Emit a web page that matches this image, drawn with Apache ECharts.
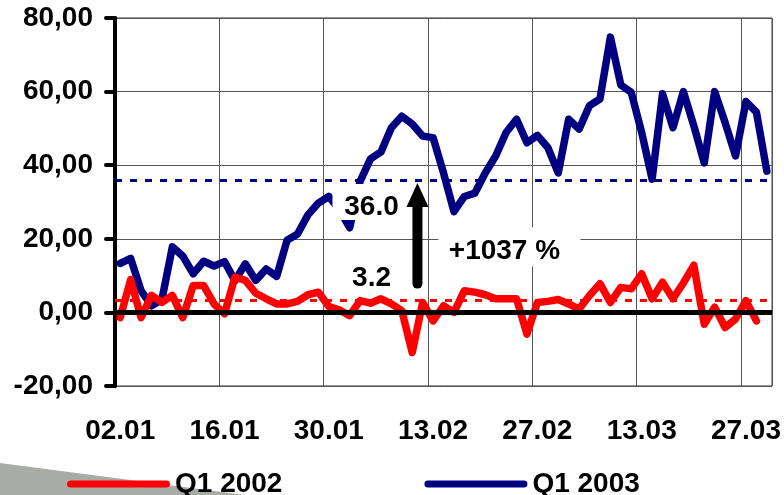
<!DOCTYPE html>
<html>
<head>
<meta charset="utf-8">
<script src="https://cdn.jsdelivr.net/npm/echarts/dist/echarts.min.js"></script>
<style>
  html, body { margin: 0; padding: 0; background: #fff; }
  #chart { width: 784px; height: 495px; }
</style>
</head>
<body>
<div id="chart"></div>
<script>
// Trading days of Q1 (dd.mm)
const days = [
  '02.01','03.01','06.01','07.01','08.01','09.01','10.01','13.01','14.01','15.01',
  '16.01','17.01','20.01','21.01','22.01','23.01','24.01','27.01','28.01','29.01',
  '30.01','31.01','03.02','04.02','05.02','06.02','07.02','10.02','11.02','12.02',
  '13.02','14.02','17.02','18.02','19.02','20.02','21.02','24.02','25.02','26.02',
  '27.02','28.02','03.03','04.03','05.03','06.03','07.03','10.03','11.03','12.03',
  '13.03','14.03','17.03','18.03','19.03','20.03','21.03','24.03','25.03','26.03',
  '27.03','28.03','31.03'
];

// Daily values, Q1 2002
const q2002 = [
  -1.4, 8.9, -1.4, 4.6, 2.7, 4.6, -1.4, 7.3, 7.3, 2.3,
  -0.4, 9.6, 8.7, 5.2, 3.7, 2.3, 2.3, 3.0, 4.8, 5.5,
  1.6, 0.7, -0.9, 3.2, 2.5, 3.7, 2.3, 0.5, -10.9, 2.7,
  -2.3, 1.8, 0.0, 5.9, 5.5, 4.8, 3.7, 3.7, 3.7, -5.9,
  2.7, 3.0, 3.5, 2.3, 0.9, 4.6, 7.8, 2.7, 6.8, 6.4,
  10.5, 3.7, 8.2, 3.7, 8.0, 12.8, -3.2, 1.4, -4.1, -1.8,
  3.2, -2.3
];

// Daily values, Q1 2003
const q2003 = [
  13.3, 14.7, 5.9, 1.8, 3.5, 17.8, 15.3, 10.5, 13.9, 12.6,
  13.8, 8.6, 13.2, 8.7, 11.8, 9.8, 19.6, 21.3, 26.5, 29.7,
  31.5, 28.0, 23.0, 35.6, 41.7, 43.6, 50.2, 53.3, 51.2, 47.9,
  47.5, 37.9, 27.4, 31.5, 32.4, 37.9, 42.5, 48.9, 52.5, 46.1,
  48.1, 44.8, 37.9, 52.5, 49.8, 56.2, 58.0, 74.8, 61.8, 59.8,
  48.9, 36.2, 59.4, 50.2, 60.0, 50.7, 40.6, 60.0, 51.6, 42.5,
  57.3, 54.4, 38.4
];

// Period averages and the change between them
const avg2002 = 3.2;
const avg2003 = 36.0;
const changeText = '+1037 %';

const seriesNames = ['Q1 2002', 'Q1 2003'];
const yTicks = { min: -20, max: 80, step: 20 };

const FONT = 'Liberation Sans, Arial, Helvetica, sans-serif';
const RED = '#ff0000';
const NAVY = '#000080';
const pill = 'path://M3.5,0 H99.5 A3.5,3.5 0 0 1 99.5,7 H3.5 A3.5,3.5 0 0 1 3.5,0 Z';

const chart = echarts.init(document.getElementById('chart'), null, { renderer: 'canvas' });

const option = {
  animation: false,
  backgroundColor: '#fff',
  textStyle: { fontFamily: FONT },
  grid: {
    left: 115, right: 11, top: 18, bottom: 109,
    show: true, borderColor: '#333', borderWidth: 1, backgroundColor: 'transparent'
  },
  legend: {
    left: 62, top: 465,
    itemWidth: 103, itemHeight: 7, itemGap: 142,
    textStyle: { fontFamily: FONT, fontSize: 28, fontWeight: 'bold', color: '#000' },
    data: [
      { name: seriesNames[0], icon: pill },
      { name: seriesNames[1], icon: pill }
    ]
  },
  xAxis: {
    type: 'category',
    data: days,
    boundaryGap: true,
    axisLine: { show: false },
    axisTick: { show: false },
    axisLabel: {
      interval: 9, margin: 31,
      fontFamily: FONT, fontSize: 28, fontWeight: 'bold', color: '#000'
    },
    splitLine: { show: true, interval: 9, lineStyle: { color: '#555', width: 1 } }
  },
  yAxis: {
    type: 'value',
    min: yTicks.min, max: yTicks.max, interval: yTicks.step,
    axisLine: { show: true, lineStyle: { color: '#000', width: 4 } },
    axisTick: { show: true, length: 9, lineStyle: { color: '#000', width: 4, cap: 'round' } },
    axisLabel: {
      margin: 22,
      fontFamily: FONT, fontSize: 28, fontWeight: 'bold', color: '#000',
      formatter: v => v.toFixed(2).replace('.', ',')
    },
    splitLine: { show: true, lineStyle: { color: '#555', width: 1 } }
  },
  series: [
    {
      // reference lines: zero axis and the two period averages
      type: 'line',
      name: 'ref',
      data: [],
      z: 1,
      markLine: {
        silent: true,
        symbol: 'none',
        label: { show: false },
        data: [
          { yAxis: 0, lineStyle: { color: '#000', width: 5, type: 'solid' } },
          { yAxis: avg2002, lineStyle: { color: RED, width: 3, type: [7, 8] } },
          { yAxis: avg2003, lineStyle: { color: NAVY, width: 3, type: [7, 8] } }
        ]
      }
    },
    {
      type: 'line',
      name: seriesNames[1],
      data: q2003,
      color: NAVY,
      showSymbol: false,
      symbol: 'none',
      z: 2,
      lineStyle: { color: NAVY, width: 7.5, cap: 'round', join: 'round' }
    },
    {
      type: 'line',
      name: seriesNames[0],
      data: q2002,
      color: RED,
      showSymbol: false,
      symbol: 'none',
      z: 3,
      lineStyle: { color: RED, width: 7.5, cap: 'round', join: 'round' }
    }
  ]
};

chart.setOption(option);

// Annotations placed from the average values
const at = (i, v) => chart.convertToPixel({ xAxisIndex: 0, yAxisIndex: 0 }, [i, v]);
const hi = at(24, avg2003);
const lo = at(24, avg2002);
const arrowX = (at(28, 0)[0] + at(29, 0)[0]) / 2;
const yHi = at(0, avg2003)[1];
const yLo = at(0, avg2002)[1];
const mid = (yHi + yLo) / 2;
const labelFont = 'bold 28px ' + FONT;

chart.setOption({
  graphic: [
    {
      type: 'polygon', z: 0, silent: true,
      shape: { points: [[0, 463], [245, 495], [0, 495]] },
      style: { fill: '#a9aba6' }
    },
    {
      type: 'rect', z: 50, silent: true,
      shape: { x: hi[0] - 38, y: hi[1] + 4, width: 72, height: 36 },
      style: { fill: '#fff' }
    },
    {
      type: 'text', z: 51, silent: true,
      style: {
        x: hi[0] + 1, y: hi[1] + 27, text: avg2003.toFixed(1),
        font: labelFont, fill: '#000', align: 'center', verticalAlign: 'middle'
      }
    },
    {
      type: 'text', z: 51, silent: true,
      style: {
        x: lo[0] + 1, y: lo[1] - 22, text: avg2002.toFixed(1),
        font: labelFont, fill: '#000', align: 'center', verticalAlign: 'middle'
      }
    },
    {
      type: 'rect', z: 50, silent: true,
      shape: { x: arrowX + 21, y: mid - 13, width: 142, height: 39 },
      style: { fill: '#fff' }
    },
    {
      type: 'text', z: 51, silent: true,
      style: {
        x: arrowX + 87, y: mid + 11, text: changeText,
        font: labelFont, fill: '#000', align: 'center', verticalAlign: 'middle'
      }
    },
    {
      type: 'line', z: 60, silent: true,
      shape: { x1: arrowX, y1: yHi + 25, x2: arrowX, y2: yLo - 17 },
      style: { stroke: '#000', lineWidth: 10, lineCap: 'round' }
    },
    {
      type: 'polygon', z: 61, silent: true,
      shape: { points: [[arrowX, yHi + 3], [arrowX - 11, yHi + 27], [arrowX + 11, yHi + 27]] },
      style: { fill: '#000' }
    }
  ]
});
</script>
</body>
</html>
